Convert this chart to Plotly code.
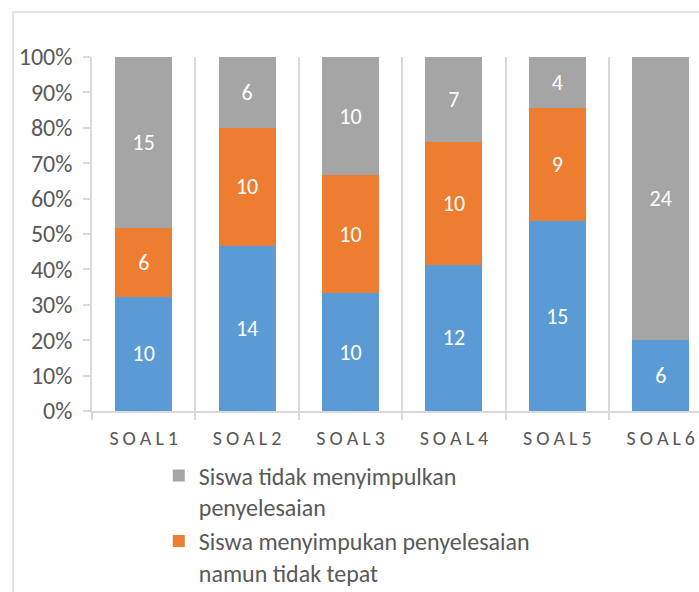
import plotly.graph_objects as go

categories = ["SOAL1", "SOAL2", "SOAL3", "SOAL4", "SOAL5", "SOAL6"]
tepat = [10, 14, 10, 12, 15, 6]
tidak_tepat = [6, 10, 10, 10, 9, 0]
tidak_menyimpulkan = [15, 6, 10, 7, 4, 24]

name_blue = "Siswa menyimpulkan penyelesaian dengan tepat"
name_orange = "Siswa menyimpukan penyelesaian<br>namun tidak tepat"
name_gray = "Siswa tidak menyimpulkan<br>penyelesaian"

FONT = "Calibri, Carlito, Lato, 'Open Sans', sans-serif"
TXT = "#595959"
GRID = "#D9D9D9"

tick_text = ["\u2009".join(c) for c in categories]


def labels(vals):
    return [str(v) if v else "" for v in vals]


fig = go.Figure()
for vals, name, color, show in [
    (tepat, name_blue, "#5B9BD5", False),
    (tidak_tepat, name_orange, "#ED7D31", True),
    (tidak_menyimpulkan, name_gray, "#A5A5A5", True),
]:
    fig.add_trace(go.Bar(
        x=categories, y=vals, name=name, marker_color=color,
        marker_line_width=0,
        text=labels(vals), textposition="inside", insidetextanchor="middle",
        textangle=0, constraintext="none",
        textfont=dict(color="white", size=22, family=FONT),
        showlegend=show,
    ))

fig.update_layout(
    width=699, height=592,
    barmode="stack", barnorm="percent", bargap=0.45,
    paper_bgcolor="white", plot_bgcolor="white",
    margin=dict(l=92, r=0, t=57, b=181, autoexpand=False),
    font=dict(family=FONT, color=TXT),
    legend=dict(
        traceorder="reversed", orientation="v", valign="top",
        x=0.11, xanchor="left", y=-0.12, yanchor="top",
        font=dict(size=24, color=TXT, family=FONT),
        bgcolor="rgba(0,0,0,0)", tracegroupgap=0, itemsizing="constant",
    ),
    xaxis=dict(
        type="category", range=[-0.5, 5.37], tickson="boundaries",
        tickvals=categories, ticktext=tick_text,
        showgrid=True, gridcolor=GRID, gridwidth=1.5,
        showline=True, linecolor=GRID, linewidth=1.5,
        ticks="outside", ticklen=7, tickcolor=GRID, tickwidth=1.5,
        ticklabelstandoff=8,
        tickfont=dict(size=20, color=TXT, family=FONT),
        fixedrange=True,
    ),
    yaxis=dict(
        range=[0, 100], dtick=10, ticksuffix="%",
        showgrid=False, zeroline=False,
        showline=True, linecolor=GRID, linewidth=1.5,
        ticks="outside", ticklen=7, tickcolor=GRID, tickwidth=1.5,
        ticklabelstandoff=6,
        tickfont=dict(size=24, color=TXT, family=FONT),
        fixedrange=True,
    ),
    shapes=[dict(
        type="path", xref="paper", yref="paper",
        path="M -0.130,-0.6 L -0.130,1.127 L 1.1,1.127",
        line=dict(color=GRID, width=1.5), layer="above",
    )],
)

fig.write_html(
    "out.html",
    config={"displayModeBar": False},
    post_script="document.body.style.margin='0';document.documentElement.style.overflow='hidden';",
)
